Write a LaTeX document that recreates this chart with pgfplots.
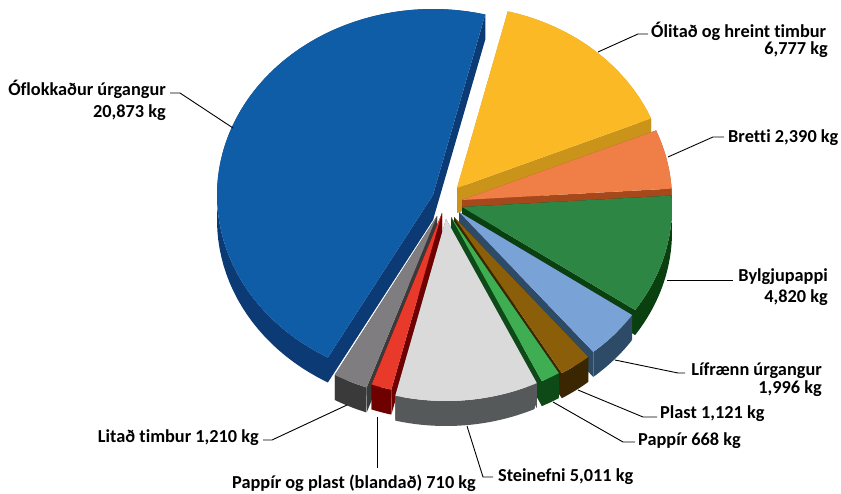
\documentclass[border=0pt]{standalone}
\usepackage{pgfplots}
\pgfplotsset{compat=1.18}
\usepackage{fontspec}
\setmainfont{Carlito}[Ligatures={NoCommon}]

\definecolor{ofTop}{HTML}{0F5DA6}\definecolor{ofSide}{HTML}{0B3A75}
\definecolor{olTop}{HTML}{FBBA25}\definecolor{olSide}{HTML}{C99419}
\definecolor{brTop}{HTML}{EF7F47}\definecolor{brSide}{HTML}{A5491C}
\definecolor{byTop}{HTML}{2E8644}\definecolor{bySide}{HTML}{0A3F10}
\definecolor{liTop}{HTML}{79A2D6}\definecolor{liSide}{HTML}{2D4A66}
\definecolor{plTop}{HTML}{8B5E0A}\definecolor{plSide}{HTML}{3A2600}
\definecolor{paTop}{HTML}{3FAE52}\definecolor{paSide}{HTML}{0E4A18}
\definecolor{stTop}{HTML}{D9DAD9}\definecolor{stSide}{HTML}{565959}
\definecolor{ppTop}{HTML}{E8392B}\definecolor{ppSide}{HTML}{6E0000}
\definecolor{ltTop}{HTML}{7F7D7F}\definecolor{ltSide}{HTML}{3A3A3A}

% data (kg)
\def\vOl{6777}\def\vBr{2390}\def\vBy{4820}\def\vLi{1996}\def\vPl{1121}
\def\vPa{668}\def\vSt{5011}\def\vPp{710}\def\vLt{1210}\def\vOf{20873}
\edef\tot{\fpeval{\vOl+\vBr+\vBy+\vLi+\vPl+\vPa+\vSt+\vPp+\vLt+\vOf}}
\edef\aA{76}
\edef\aB{\fpeval{round(\aA-360*\vOl/\tot,3)}}
\edef\aC{\fpeval{round(\aB-360*\vBr/\tot,3)}}
\edef\aD{\fpeval{round(\aC-360*\vBy/\tot,3)}}
\edef\aE{\fpeval{round(\aD-360*\vLi/\tot,3)}}
\edef\aF{\fpeval{round(\aE-360*\vPl/\tot,3)}}
\edef\aG{\fpeval{round(\aF-360*\vPa/\tot,3)}}
\edef\aH{\fpeval{round(\aG-360*\vSt/\tot,3)}}
\edef\aI{\fpeval{round(\aH-360*\vPp/\tot,3)}}
\edef\aJ{\fpeval{round(\aI-360*\vLt/\tot,3)}}
\edef\aK{\fpeval{round(\aJ-360*\vOf/\tot,3)}}

% #1 start angle, #2 end angle (smaller), #3,#4 apex, #5 rx, #6 ry, #7 top, #8 side, #9 depth
\newcommand{\pieslice}[9]{%
\addplot[fill=#8, draw=none, variable=\s, domain=0:3, samples at={0,1,2,3}]
  ({#3+#5*cos(#1)*(\s>0.5)*(\s<2.5)}, {#4-#6*sin(#1)*(\s>0.5)*(\s<2.5)+#9*(\s>1.5)}) -- cycle;
\addplot[fill=#8, draw=none, variable=\s, domain=0:3, samples at={0,1,2,3}]
  ({#3+#5*cos(#2)*(\s>0.5)*(\s<2.5)}, {#4-#6*sin(#2)*(\s>0.5)*(\s<2.5)+#9*(\s>1.5)}) -- cycle;
\addplot[fill=#8, draw=none, variable=\s, domain=0:2, samples=121]
  ({#3+#5*cos((#2)+((#1)-(#2))*(1-abs(1-\s)))}, {#4-#6*sin((#2)+((#1)-(#2))*(1-abs(1-\s)))+#9*(\s>1.0001)}) -- cycle;
\addplot[fill=#7, draw=none, domain=#2:#1, samples=100]
  ({#3+#5*cos(x)}, {#4-#6*sin(x)}) -- (axis cs:#3,#4) -- cycle;
}

\tikzset{lab/.style={font=\fontsize{18.3}{21}\selectfont\bfseries, inner sep=0pt, text=black},
         ld/.style={black, line width=0.9pt}}

\begin{document}
\begin{tikzpicture}
\begin{axis}[scale only axis, width=841pt, height=493pt,
  xmin=0, xmax=841, ymin=0, ymax=493, y dir=reverse,
  hide axis, clip=false]
\path (axis cs:0,0) rectangle (axis cs:841,493);

\pieslice{\aA}{\aB}{457}{188}{210}{182}{olTop}{olSide}{25}
\pieslice{\aK}{\aJ}{433}{195}{216}{186}{ofTop}{ofSide}{25}
\pieslice{\aB}{\aC}{462}{200}{210}{182}{brTop}{brSide}{25}
\pieslice{\aC}{\aD}{462}{207}{210}{182}{byTop}{bySide}{25}
\pieslice{\aD}{\aE}{459}{212}{210}{182}{liTop}{liSide}{25}
\pieslice{\aE}{\aF}{454}{217}{210}{182}{plTop}{plSide}{25}
\pieslice{\aF}{\aG}{451}{217}{210}{182}{paTop}{paSide}{25}
\pieslice{\aI}{\aJ}{437}{216}{210}{182}{ltTop}{ltSide}{25}
\pieslice{\aH}{\aI}{442}{213}{210}{182}{ppTop}{ppSide}{25}
\pieslice{\aG}{\aH}{446}{219}{210}{182}{stTop}{stSide}{25}

% leader lines
\draw[ld] (axis cs:598,52) -- (axis cs:638,34) -- (axis cs:648,34);
\draw[ld] (axis cs:668,157) -- (axis cs:713,137) -- (axis cs:724,137);
\draw[ld] (axis cs:667,280) -- (axis cs:733,280);
\draw[ld] (axis cs:615,360) -- (axis cs:678,373) -- (axis cs:685,373);
\draw[ld] (axis cs:578,390) -- (axis cs:643,417) -- (axis cs:657,417);
\draw[ld] (axis cs:553,402) -- (axis cs:623,442) -- (axis cs:635,442);
\draw[ld] (axis cs:467,426) -- (axis cs:483,477) -- (axis cs:493,477);
\draw[ld] (axis cs:377,417) -- (axis cs:377,468);
\draw[ld] (axis cs:347,405) -- (axis cs:272,440) -- (axis cs:263,440);
\draw[ld] (axis cs:233,128) -- (axis cs:180,93) -- (axis cs:170,93);

% labels
\node[lab, anchor=base west] at (axis cs:651,37) {Ólitað og hreint timbur};
\node[lab, anchor=base east] at (axis cs:828,54) {6,777 kg};
\node[lab, anchor=base west] at (axis cs:728,142) {Bretti 2,390 kg};
\node[lab, anchor=base east] at (axis cs:828,281) {Bylgjupappi};
\node[lab, anchor=base east] at (axis cs:828,302) {4,820 kg};
\node[lab, anchor=base east] at (axis cs:822,375) {Lífrænn úrgangur};
\node[lab, anchor=base east] at (axis cs:822,393) {1,996 kg};
\node[lab, anchor=base west] at (axis cs:660,418) {Plast 1,121 kg};
\node[lab, anchor=base west] at (axis cs:638,445) {Pappír 668 kg};
\node[lab, anchor=base west] at (axis cs:498,481) {Steinefni 5,011 kg};
\node[lab, anchor=base west] at (axis cs:232,488) {Pappír og plast (blandað) 710 kg};
\node[lab, anchor=base east] at (axis cs:259,442) {Litað timbur 1,210 kg};
\node[lab, anchor=base east] at (axis cs:166,95) {Óflokkaður úrgangur};
\node[lab, anchor=base east] at (axis cs:166,117) {20,873 kg};
\end{axis}
\end{tikzpicture}
\end{document}
